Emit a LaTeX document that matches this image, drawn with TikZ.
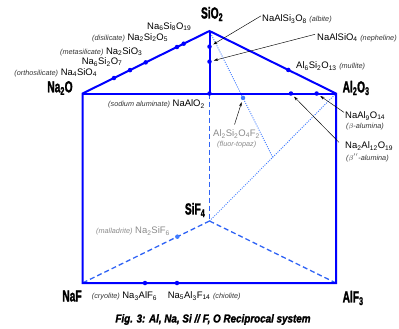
\documentclass[tikz,border=0pt]{standalone}
\usepackage{fontspec}
\setmainfont{Liberation Sans}
\newfontfamily\heavyfont[FakeBold=2]{Liberation Sans}
\usetikzlibrary{calc,arrows.meta}
\definecolor{mainblue}{HTML}{0000FF}
\definecolor{dashblue}{HTML}{2F63F5}
\definecolor{lightblue}{HTML}{3F7BFF}
\definecolor{greytxt}{HTML}{8A8A8A}
\definecolor{noteTxt}{HTML}{333333}
\newcommand{\vlab}[1]{\scalebox{0.64}[1]{\fontsize{16}{16}\heavyfont\bfseries #1}}
\newcommand{\nt}[1]{{\fontsize{7.3}{8}\selectfont\itshape\color{noteTxt}#1}}
\newcommand{\ntg}[1]{{\fontsize{7.3}{8}\selectfont\itshape\color{greytxt}#1}}
\begin{document}
\begin{tikzpicture}[x=1bp,y=-1bp,
  solidedge/.style={draw=mainblue,line width=2bp},
  dashedge/.style={draw=dashblue,line width=1.3bp,dash pattern=on 5bp off 3bp},
  vdashedge/.style={draw=dashblue,line width=1.6bp,dash pattern=on 5bp off 3bp},
  dotedge/.style={draw=lightblue,line width=0.9bp,dash pattern=on 1bp off 1.3bp},
  dotmark/.style={circle,fill=mainblue,inner sep=0pt,minimum size=4.5bp},
  ldotmark/.style={circle,fill=lightblue,inner sep=0pt,minimum size=4.5bp},
  lbl/.style={inner sep=0pt,anchor=base west,font=\fontsize{9.5}{10}\selectfont},
  vtx/.style={inner sep=0pt},
  pointer/.style={black,line width=0.45bp,-{Stealth[length=4.2bp,width=2.8bp]},shorten >=2bp}]
\useasboundingbox (0,0) rectangle (399,329);
% vertices
\coordinate (N2O) at (82.5,93.5);
\coordinate (SiO) at (209.5,31);
\coordinate (AlO) at (336,93.5);
\coordinate (NaF) at (82.5,283);
\coordinate (AlF) at (336,283);
\coordinate (SiF) at (209.5,221);
\coordinate (NAO) at (209.5,93.5);
\coordinate (Mid) at ($(SiF)!0.5!(AlO)$);
% hidden lines
\draw[vdashedge] (NAO) -- (SiF);
\draw[dashedge] (SiF) -- (NaF);
\draw[dashedge] (SiF) -- (AlF);
\draw[dotedge] (SiF) -- (AlO);
\draw[dotedge] (SiO) -- (Mid);
% solid edges
\draw[solidedge,line join=miter] (N2O) -- (SiO) -- (AlO) -- (AlF) -- (NaF) -- cycle;
\draw[solidedge] (N2O) -- (AlO);
\draw[solidedge] (SiO) -- (NAO);
% dots
\node[dotmark] (orth) at ($(N2O)!0.248!(SiO)$) {};
\node[dotmark] (pyro) at ($(N2O)!0.374!(SiO)$) {};
\node[dotmark] (meta) at ($(N2O)!0.498!(SiO)$) {};
\node[dotmark] (disi) at ($(N2O)!0.744!(SiO)$) {};
\node[dotmark] (n6s8) at ($(N2O)!0.797!(SiO)$) {};
\node[dotmark] (albd) at ($(SiO)!0.25!(NAO)$) {};
\node[dotmark] (nepd) at ($(SiO)!0.49!(NAO)$) {};
\node[dotmark] (naod) at (NAO) {};
\node[dotmark] (mulld) at ($(SiO)!0.623!(AlO)$) {};
\node[dotmark] (b2d) at ($(NAO)!0.644!(AlO)$) {};
\node[dotmark] (b1d) at ($(NAO)!0.847!(AlO)$) {};
\node[ldotmark] (ftd) at ($(SiO)!0.53!(Mid)$) {};
\node[ldotmark] (mald) at ($(SiF)!0.253!(NaF)$) {};
\node[dotmark] (cryd) at (145,283) {};
\node[dotmark] (chid) at (177,283) {};
% vertex labels
\node[vtx] (lN2O) at (60,88) {\vlab{Na\textsubscript{2}O}};
\node[vtx] (lSiO) at (212,14) {\vlab{SiO\textsubscript{2}}};
\node[vtx] (lAlO) at (356,88) {\vlab{Al\textsubscript{2}O\textsubscript{3}}};
\node[vtx] (lSiF) at (195,210) {\vlab{SiF\textsubscript{4}}};
\node[vtx] (lNaF) at (72,296) {\vlab{NaF}};
\node[vtx] (lAlF) at (353,298) {\vlab{AlF\textsubscript{3}}};
% compound labels
\node[lbl] (t1) at (147,29) {Na\textsubscript{6}Si\textsubscript{8}O\textsubscript{19}};
\node[lbl] (t2) at (92,40) {\nt{(disilicate)} Na\textsubscript{2}Si\textsubscript{2}O\textsubscript{5}};
\node[lbl] (t3) at (60,54) {\nt{(metasilicate)} Na\textsubscript{2}SiO\textsubscript{3}};
\node[lbl] (t4) at (81.7,64.5) {Na\textsubscript{6}Si\textsubscript{2}O\textsubscript{7}};
\node[lbl] (t5) at (14.3,75.5) {\nt{(orthosilicate)} Na\textsubscript{4}SiO\textsubscript{4}};
\node[lbl] (t6) at (108,106.5) {\nt{(sodium aluminate)} NaAlO\textsubscript{2}};
\node[lbl] (alb) at (262,21.5) {NaAlSi\textsubscript{3}O\textsubscript{8} \nt{(albite)}};
\node[lbl] (nep) at (317,40) {NaAlSiO\textsubscript{4} \nt{(nepheline)}};
\node[lbl] (mul) at (296,68.5) {Al\textsubscript{6}Si\textsubscript{2}O\textsubscript{13} \nt{(mullite)}};
\node[lbl] (b1) at (345,118.5) {NaAl\textsubscript{9}O\textsubscript{14}};
\node[lbl] (b1n) at (346,128) {\nt{($\beta$-alumina)}};
\node[lbl] (b2) at (345,148.5) {Na\textsubscript{2}Al\textsubscript{12}O\textsubscript{19}};
\node[lbl] (b2n) at (346,160) {\nt{($\beta''$-alumina)}};
\node[lbl,text=greytxt] (ft) at (213,136.5) {Al\textsubscript{2}Si\textsubscript{2}O\textsubscript{4}F\textsubscript{2}};
\node[lbl] (ftn) at (217,146) {\ntg{(fluor-topaz)}};
\node[lbl,text=greytxt] (mal) at (96,233.5) {\ntg{(malladrite)} Na\textsubscript{2}SiF\textsubscript{6}};
\node[lbl] (cry) at (91.7,298.5) {\nt{(cryolite)} Na\textsubscript{3}AlF\textsubscript{6}};
\node[lbl] (chi) at (167.7,298.5) {Na\textsubscript{5}Al\textsubscript{3}F\textsubscript{14} \nt{(chiolite)}};
% pointers
\draw[pointer] (alb.west) ++(-1,-3) coordinate (albs) -- (albd);
\draw[pointer] (nep.west) ++(-2,-3) coordinate (neps) -- (nepd);
\draw[pointer] (b1.west) ++(-1,-3.5) coordinate (b1s) -- (b1d);
\draw[pointer] (b2.west) ++(-6,-3.5) coordinate (b2s) -- (b2d);
\draw[pointer] (ft.north) ++(-2,-5) coordinate (fts) -- (ftd);
% caption
\node[vtx] (cap) at (213,319.5) {\scalebox{0.86}[1]{\fontsize{11.5}{12}\heavyfont\bfseries\itshape Fig. 3: Al, Na, Si // F, O Reciprocal system}};
\end{tikzpicture}
\end{document}
